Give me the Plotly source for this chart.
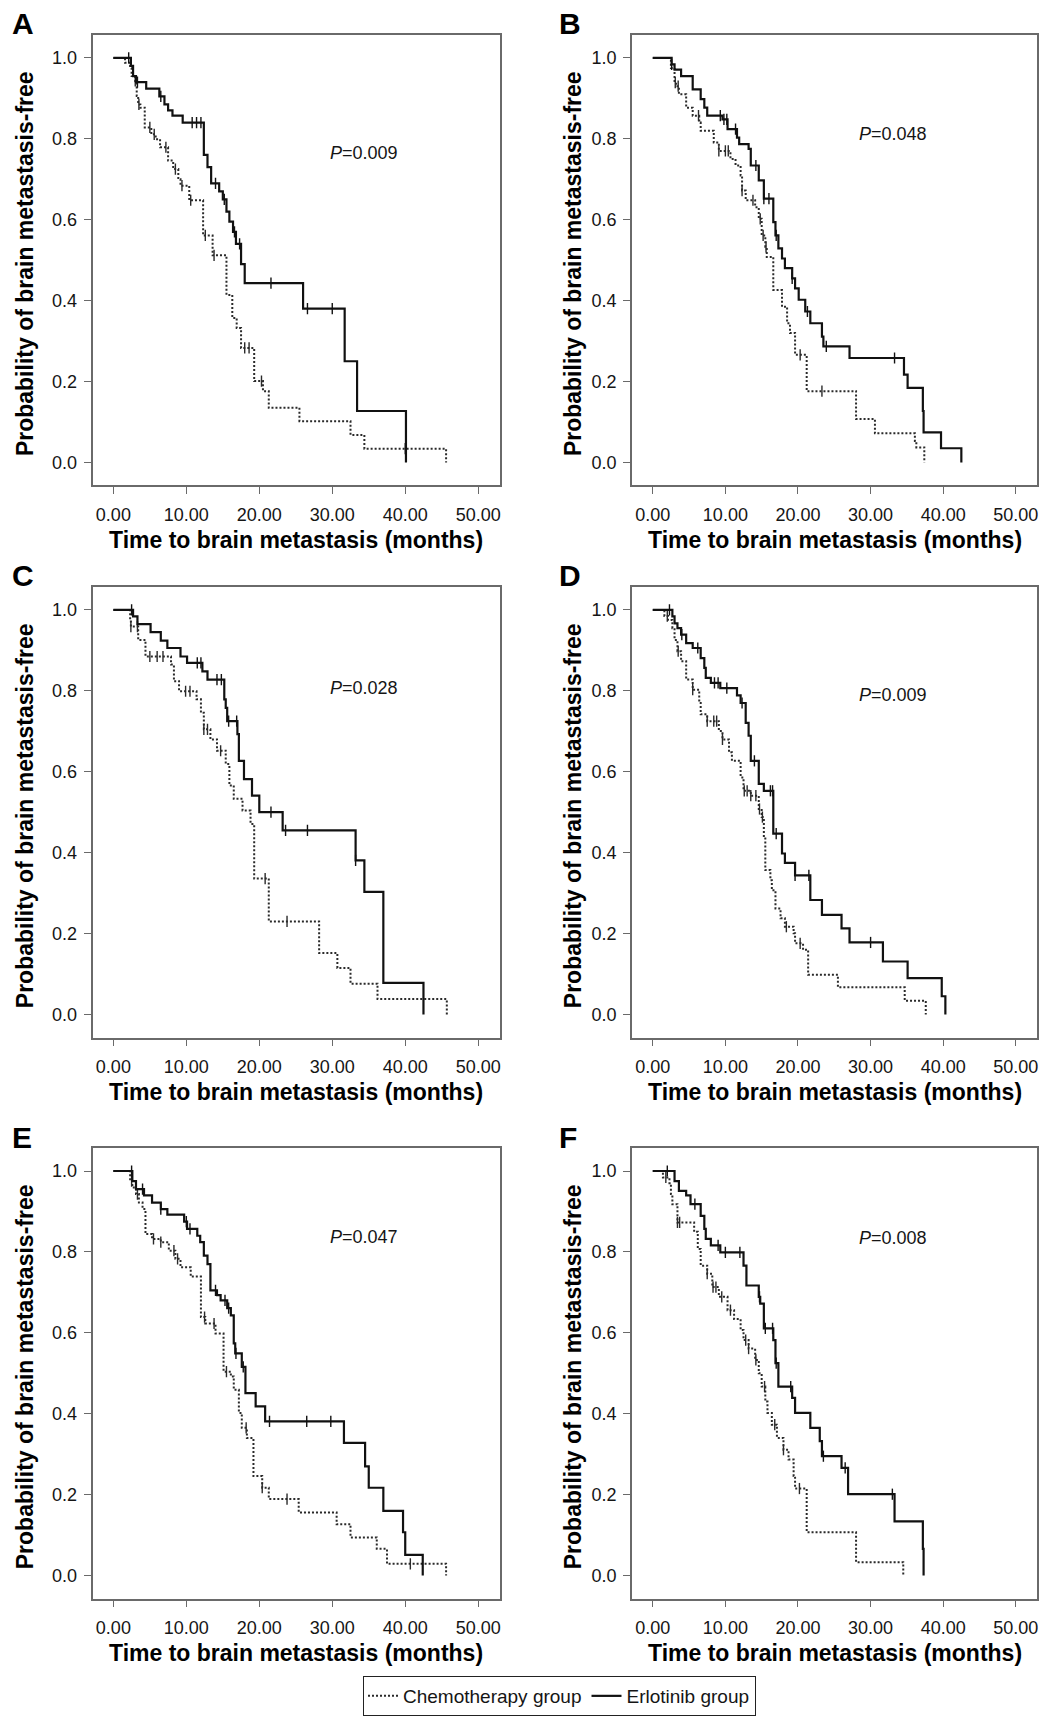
import numpy as np
import plotly.graph_objects as go

# ---------------- data ----------------
PANEL_LABELS = ["A", "B", "C", "D", "E", "F"]
P_VALUES = ["0.009", "0.048", "0.028", "0.009", "0.047", "0.008"]
X_TICKS = [0, 10, 20, 30, 40, 50]
Y_TICKS = [0.0, 0.2, 0.4, 0.6, 0.8, 1.0]
GROUP_NAMES = ["Chemotherapy group", "Erlotinib group"]

# Panel A
A_CHEMO_T = [1.6, 2.3, 2.5, 3.0, 3.2, 3.4, 3.7, 4.3, 5.2, 5.8, 6.4, 7.5, 8.2, 8.9, 9.2, 10.4, 12.3, 13.6, 15.5, 16.3, 16.9, 17.5, 19.3, 20.5, 21.3, 25.5, 32.5, 34.4, 45.6]
A_CHEMO_S = [0.988, 0.975, 0.955, 0.943, 0.906, 0.885, 0.877, 0.828, 0.811, 0.799, 0.779, 0.746, 0.725, 0.70, 0.684, 0.648, 0.561, 0.512, 0.414, 0.357, 0.332, 0.283, 0.201, 0.176, 0.135, 0.102, 0.068, 0.034, 0.0]
A_CHEMO_C = [3.0, 3.5, 5.0, 5.6, 7.2, 8.5, 9.4, 10.6, 12.6, 13.8, 18.0, 18.6, 20.3, 40.0]
A_ERL_T = [2.4, 2.7, 3.1, 4.5, 6.3, 7.0, 7.5, 8.1, 9.5, 12.4, 12.9, 13.4, 14.5, 15.0, 15.5, 15.9, 16.4, 16.8, 17.5, 18.0, 26.0, 31.7, 33.4, 40.1]
A_ERL_S = [0.98, 0.955, 0.94, 0.924, 0.905, 0.885, 0.87, 0.857, 0.84, 0.76, 0.73, 0.69, 0.67, 0.65, 0.62, 0.595, 0.57, 0.54, 0.49, 0.443, 0.38, 0.25, 0.127, 0.0]
A_ERL_C = [2.1, 3.3, 6.5, 10.8, 11.4, 12.0, 14.0, 15.2, 16.6, 17.3, 21.6, 26.6, 30.0]

# Panel B
B_CHEMO_T = [2.5, 3.0, 3.2, 3.6, 4.6, 5.5, 6.4, 6.6, 8.4, 9.1, 10.7, 11.4, 12.1, 12.3, 12.8, 14.1, 14.6, 15.0, 15.5, 15.7, 16.6, 17.8, 18.5, 18.9, 19.6, 21.2, 28.0, 30.6, 36.1, 36.3, 37.4]
B_CHEMO_S = [0.975, 0.939, 0.93, 0.91, 0.877, 0.857, 0.84, 0.82, 0.791, 0.77, 0.75, 0.734, 0.709, 0.672, 0.648, 0.631, 0.602, 0.561, 0.533, 0.508, 0.426, 0.385, 0.344, 0.32, 0.266, 0.176, 0.107, 0.072, 0.053, 0.037, 0.0]
B_CHEMO_C = [3.1, 3.5, 6.3, 9.1, 10.0, 10.4, 12.3, 13.8, 14.8, 15.2, 15.6, 20.3, 23.3]
B_ERL_T = [2.6, 3.0, 3.9, 5.5, 6.6, 7.1, 7.5, 9.6, 10.3, 11.6, 11.9, 13.2, 13.5, 14.6, 15.3, 16.6, 16.9, 17.3, 17.8, 18.2, 19.2, 19.6, 20.1, 21.0, 21.7, 23.3, 23.5, 27.1, 34.6, 35.1, 37.2, 37.3, 39.7, 42.5]
B_ERL_S = [0.984, 0.971, 0.955, 0.922, 0.898, 0.877, 0.857, 0.848, 0.824, 0.803, 0.787, 0.775, 0.734, 0.697, 0.652, 0.594, 0.561, 0.529, 0.504, 0.48, 0.455, 0.43, 0.402, 0.373, 0.344, 0.311, 0.287, 0.258, 0.217, 0.184, 0.127, 0.074, 0.035, 0.0]
B_ERL_C = [2.6, 9.3, 9.8, 10.2, 11.4, 14.2, 15.3, 16.0, 17.0, 19.2, 21.3, 23.9, 33.3]

# Panel C
C_CHEMO_T = [2.3, 2.4, 3.4, 4.4, 7.9, 8.3, 9.0, 11.4, 12.0, 12.4, 13.3, 14.2, 15.4, 15.9, 16.5, 17.7, 18.8, 19.3, 21.3, 28.2, 30.7, 32.5, 36.2, 45.7]
C_CHEMO_S = [0.975, 0.959, 0.926, 0.885, 0.865, 0.824, 0.799, 0.779, 0.746, 0.705, 0.68, 0.652, 0.619, 0.566, 0.533, 0.504, 0.471, 0.336, 0.23, 0.152, 0.115, 0.076, 0.038, 0.0]
C_CHEMO_C = [2.4, 3.3, 5.0, 6.0, 6.8, 9.9, 10.5, 12.4, 12.9, 14.7, 20.8, 23.8]
C_ERL_T = [2.7, 3.3, 5.1, 6.5, 7.4, 9.2, 10.1, 12.2, 12.9, 15.2, 15.4, 15.6, 17.0, 17.2, 17.9, 19.0, 20.0, 23.2, 33.2, 34.4, 37.0, 42.5]
C_ERL_S = [0.984, 0.965, 0.945, 0.924, 0.906, 0.885, 0.869, 0.848, 0.828, 0.779, 0.758, 0.725, 0.693, 0.627, 0.582, 0.541, 0.50, 0.455, 0.381, 0.303, 0.078, 0.0]
C_ERL_C = [2.5, 11.5, 12.0, 14.2, 14.8, 15.8, 16.9, 21.6, 23.6, 26.6, 33.2]

# Panel D
D_CHEMO_T = [1.6, 2.1, 2.7, 3.0, 3.4, 3.9, 4.6, 5.5, 6.4, 6.6, 7.5, 9.1, 9.6, 10.5, 10.9, 12.1, 12.5, 13.5, 14.6, 15.0, 15.3, 15.5, 16.2, 16.4, 16.9, 17.6, 18.2, 19.4, 19.6, 20.7, 21.4, 25.5, 34.7, 37.6]
D_CHEMO_S = [0.985, 0.975, 0.955, 0.926, 0.898, 0.873, 0.828, 0.803, 0.77, 0.742, 0.725, 0.701, 0.68, 0.648, 0.627, 0.586, 0.553, 0.541, 0.508, 0.488, 0.439, 0.357, 0.332, 0.307, 0.262, 0.238, 0.217, 0.201, 0.176, 0.16, 0.098, 0.067, 0.034, 0.0]
D_CHEMO_C = [2.0, 3.5, 5.5, 7.5, 8.4, 8.8, 9.6, 12.6, 13.0, 13.5, 14.2, 14.7, 15.1, 18.4, 20.3]
D_ERL_T = [2.7, 3.0, 3.4, 3.9, 4.6, 5.5, 6.6, 7.1, 7.3, 8.0, 9.3, 11.6, 12.1, 12.8, 13.2, 13.5, 14.6, 15.3, 16.6, 17.8, 18.2, 19.6, 21.7, 23.3, 26.0, 27.1, 31.7, 35.1, 39.8, 40.3]
D_ERL_S = [0.984, 0.967, 0.955, 0.939, 0.918, 0.906, 0.881, 0.857, 0.832, 0.82, 0.807, 0.789, 0.77, 0.721, 0.689, 0.627, 0.57, 0.553, 0.447, 0.398, 0.375, 0.344, 0.283, 0.246, 0.213, 0.178, 0.131, 0.09, 0.045, 0.0]
D_ERL_C = [2.3, 4.0, 6.2, 8.5, 9.0, 10.2, 12.3, 14.0, 16.2, 16.5, 17.0, 19.6, 21.5, 30.0]

# Panel E
E_CHEMO_T = [2.3, 2.6, 3.1, 3.5, 4.0, 4.4, 5.3, 6.5, 7.6, 8.5, 9.2, 10.6, 12.0, 12.6, 14.0, 15.1, 16.1, 16.5, 17.2, 17.6, 18.3, 19.2, 20.4, 21.3, 25.4, 30.6, 32.5, 36.1, 37.5, 45.6]
E_CHEMO_S = [0.975, 0.959, 0.943, 0.922, 0.906, 0.844, 0.832, 0.824, 0.803, 0.783, 0.762, 0.739, 0.639, 0.623, 0.598, 0.504, 0.492, 0.459, 0.402, 0.365, 0.34, 0.246, 0.217, 0.189, 0.156, 0.127, 0.094, 0.066, 0.029, 0.0]
E_CHEMO_C = [2.5, 3.3, 5.5, 6.5, 8.3, 8.8, 12.5, 13.8, 15.5, 18.2, 20.4, 23.8, 40.7]
E_ERL_T = [2.6, 3.1, 4.2, 5.3, 6.5, 7.4, 9.7, 10.1, 11.5, 11.9, 12.4, 12.9, 13.3, 14.2, 14.7, 15.6, 16.1, 16.5, 16.7, 17.6, 18.1, 19.5, 20.8, 31.6, 34.5, 35.0, 37.0, 39.7, 40.0, 42.4]
E_ERL_S = [0.975, 0.955, 0.94, 0.922, 0.906, 0.892, 0.875, 0.857, 0.84, 0.824, 0.791, 0.77, 0.705, 0.693, 0.68, 0.661, 0.643, 0.574, 0.549, 0.516, 0.451, 0.418, 0.381, 0.328, 0.27, 0.217, 0.16, 0.107, 0.051, 0.0]
E_ERL_C = [2.5, 4.0, 6.5, 10.0, 10.5, 14.0, 15.3, 15.8, 16.8, 17.8, 21.4, 26.5, 29.8]

# Panel F
F_CHEMO_T = [1.4, 2.3, 2.5, 2.7, 3.4, 5.7, 6.2, 6.6, 7.5, 8.2, 9.1, 10.3, 11.2, 12.1, 12.5, 13.2, 14.1, 14.6, 15.0, 15.5, 15.8, 16.4, 17.1, 18.0, 18.7, 19.4, 19.6, 21.2, 28.0, 34.5]
F_CHEMO_S = [0.984, 0.97, 0.943, 0.918, 0.873, 0.85, 0.807, 0.766, 0.746, 0.713, 0.689, 0.656, 0.634, 0.607, 0.582, 0.561, 0.533, 0.5, 0.467, 0.43, 0.402, 0.373, 0.34, 0.311, 0.287, 0.246, 0.215, 0.107, 0.033, 0.0]
F_CHEMO_C = [1.8, 3.4, 3.7, 7.5, 8.3, 8.7, 9.5, 10.7, 12.8, 13.2, 14.2, 15.4, 16.8, 18.0, 20.2]
F_ERL_T = [3.0, 3.6, 4.6, 5.2, 6.6, 7.1, 7.3, 8.0, 9.3, 12.5, 12.9, 14.6, 14.8, 15.3, 16.6, 16.9, 17.3, 19.2, 19.6, 21.7, 23.0, 23.3, 26.0, 26.9, 33.3, 37.2, 37.3]
F_ERL_S = [0.975, 0.951, 0.94, 0.918, 0.889, 0.857, 0.832, 0.816, 0.799, 0.766, 0.717, 0.689, 0.672, 0.611, 0.582, 0.525, 0.467, 0.439, 0.402, 0.365, 0.332, 0.295, 0.266, 0.201, 0.134, 0.066, 0.0]
F_ERL_C = [2.0, 5.8, 9.0, 10.0, 12.0, 14.7, 15.5, 16.5, 17.0, 19.0, 23.5, 26.5, 33.0]

CHEMO = [(A_CHEMO_T, A_CHEMO_S, A_CHEMO_C), (B_CHEMO_T, B_CHEMO_S, B_CHEMO_C),
         (C_CHEMO_T, C_CHEMO_S, C_CHEMO_C), (D_CHEMO_T, D_CHEMO_S, D_CHEMO_C),
         (E_CHEMO_T, E_CHEMO_S, E_CHEMO_C), (F_CHEMO_T, F_CHEMO_S, F_CHEMO_C)]
ERL = [(A_ERL_T, A_ERL_S, A_ERL_C), (B_ERL_T, B_ERL_S, B_ERL_C),
       (C_ERL_T, C_ERL_S, C_ERL_C), (D_ERL_T, D_ERL_S, D_ERL_C),
       (E_ERL_T, E_ERL_S, E_ERL_C), (F_ERL_T, F_ERL_S, F_ERL_C)]

# ---------------- layout geometry (pixels) ----------------
W, H = 1044, 1716
COL_LEFT = [92.5, 632.0]
COL_RIGHT = [499.5, 1037.0]
ROW_TOP = [35.0, 590.0, 1154.0]
ROW_BOTTOM = [488.0, 1043.0, 1607.0]
YTITLE_X = [25.0, 573.0]
LETTER_X = [10.0, 557.0]
P_POS = [(34.3, 0.766), (33.1, 0.811), (34.3, 0.807), (33.1, 0.791), (34.3, 0.838), (33.1, 0.834)]
X_RANGE = [-2.86, 52.92]
Y_RANGE = [-0.057, 1.057]

FONT = "Arial, 'Liberation Sans', Helvetica, sans-serif"
TXT = "#151515"
AXC = "#6a6a6a"
CHEMO_COLOR = "#2a2a2a"
ERL_COLOR = "#111111"


def step_at(times, surv, q):
    t = np.asarray(times, dtype=float)
    s = np.asarray(surv, dtype=float)
    idx = np.searchsorted(t, np.asarray(q, dtype=float), side="right") - 1
    return np.where(idx < 0, 1.0, s[np.clip(idx, 0, None)])


fig = go.Figure()
layout = dict(
    width=W, height=H,
    margin=dict(l=0, r=0, t=0, b=0),
    paper_bgcolor="white", plot_bgcolor="white",
    font=dict(family=FONT, color=TXT),
    showlegend=True,
)
annotations = []

for i in range(6):
    col, row = i % 2, i // 2
    k = "" if i == 0 else str(i + 1)
    xa, ya = "x" + k, "y" + k
    x0, x1 = COL_LEFT[col] / W, COL_RIGHT[col] / W
    y0, y1 = 1 - ROW_BOTTOM[row] / H, 1 - ROW_TOP[row] / H

    layout["xaxis" + k] = dict(
        domain=[x0, x1], anchor=ya, range=X_RANGE, tickvals=X_TICKS, tickformat=".2f",
        ticks="outside", ticklen=7, tickwidth=1.4, tickcolor=AXC,
        showline=True, linecolor=AXC, linewidth=1.8, mirror=True,
        showgrid=False, zeroline=False, tickfont=dict(size=18, color=TXT, family=FONT),
        ticklabelstandoff=5, fixedrange=True,
    )
    layout["yaxis" + k] = dict(
        domain=[y0, y1], anchor=xa, range=Y_RANGE, tickvals=Y_TICKS, tickformat=".1f",
        ticks="outside", ticklen=7, tickwidth=1.4, tickcolor=AXC,
        showline=True, linecolor=AXC, linewidth=1.8, mirror=True,
        showgrid=False, zeroline=False, tickfont=dict(size=18, color=TXT, family=FONT),
        ticklabelstandoff=3, fixedrange=True,
    )

    groups = [(CHEMO[i], GROUP_NAMES[0], CHEMO_COLOR, "2px,2px", 2.0),
              (ERL[i], GROUP_NAMES[1], ERL_COLOR, "solid", 2.2)]
    for (tt, ss, cc), name, color, dash, width in groups:
        fig.add_trace(go.Scatter(
            x=[0.0] + list(tt), y=[1.0] + list(ss), mode="lines",
            line=dict(shape="hv", color=color, dash=dash, width=width),
            name=name, legendgroup=name, showlegend=(i == 0),
            xaxis=xa, yaxis=ya, hoverinfo="skip",
        ))
        fig.add_trace(go.Scatter(
            x=cc, y=step_at(tt, ss, cc), mode="markers",
            marker=dict(symbol="line-ns", size=8, line=dict(width=1.4, color=color)),
            name=name, legendgroup=name, showlegend=False,
            xaxis=xa, yaxis=ya, hoverinfo="skip",
        ))

    # panel letter
    annotations.append(dict(
        text="<b>%s</b>" % PANEL_LABELS[i], xref="paper", yref="paper",
        x=LETTER_X[col] / W, y=1 - (ROW_TOP[row] - 11) / H,
        xanchor="left", yanchor="middle", showarrow=False,
        font=dict(size=30, family=FONT, color="#000"),
    ))
    # P value
    px, py = P_POS[i]
    annotations.append(dict(
        text="<i>P</i>=%s" % P_VALUES[i], xref=xa, yref=ya, x=px, y=py,
        xanchor="center", yanchor="middle", showarrow=False,
        font=dict(size=18, family=FONT, color=TXT),
    ))
    # x-axis title
    annotations.append(dict(
        text="<b>Time to brain metastasis (months)</b>", xref="paper", yref="paper",
        x=(COL_LEFT[col] + COL_RIGHT[col]) / 2 / W, y=1 - (ROW_BOTTOM[row] + 55) / H,
        xanchor="center", yanchor="middle", showarrow=False,
        font=dict(size=23, family=FONT, color="#000"),
    ))
    # y-axis title
    annotations.append(dict(
        text="<b>Probability of brain metastasis-free</b>", xref="paper", yref="paper",
        x=YTITLE_X[col] / W, y=1 - ((ROW_TOP[row] + ROW_BOTTOM[row]) / 2 + 4) / H,
        xanchor="center", yanchor="middle", textangle=-90, showarrow=False,
        font=dict(size=23, family=FONT, color="#000"),
    ))

layout["annotations"] = annotations
layout["legend"] = dict(
    orientation="h", x=363 / W, y=1 - 1685 / H, xanchor="left", yanchor="top",
    bordercolor="#222", borderwidth=1, bgcolor="white",
    font=dict(size=19, family=FONT, color=TXT), itemwidth=30,
    tracegroupgap=0,
)
fig.update_layout(**layout)
fig.write_html(
    "out.html",
    config={"displayModeBar": False, "staticPlot": False},
    post_script="document.body.style.margin='0px';document.body.style.padding='0px';"
                "document.body.style.overflow='hidden';",
)
